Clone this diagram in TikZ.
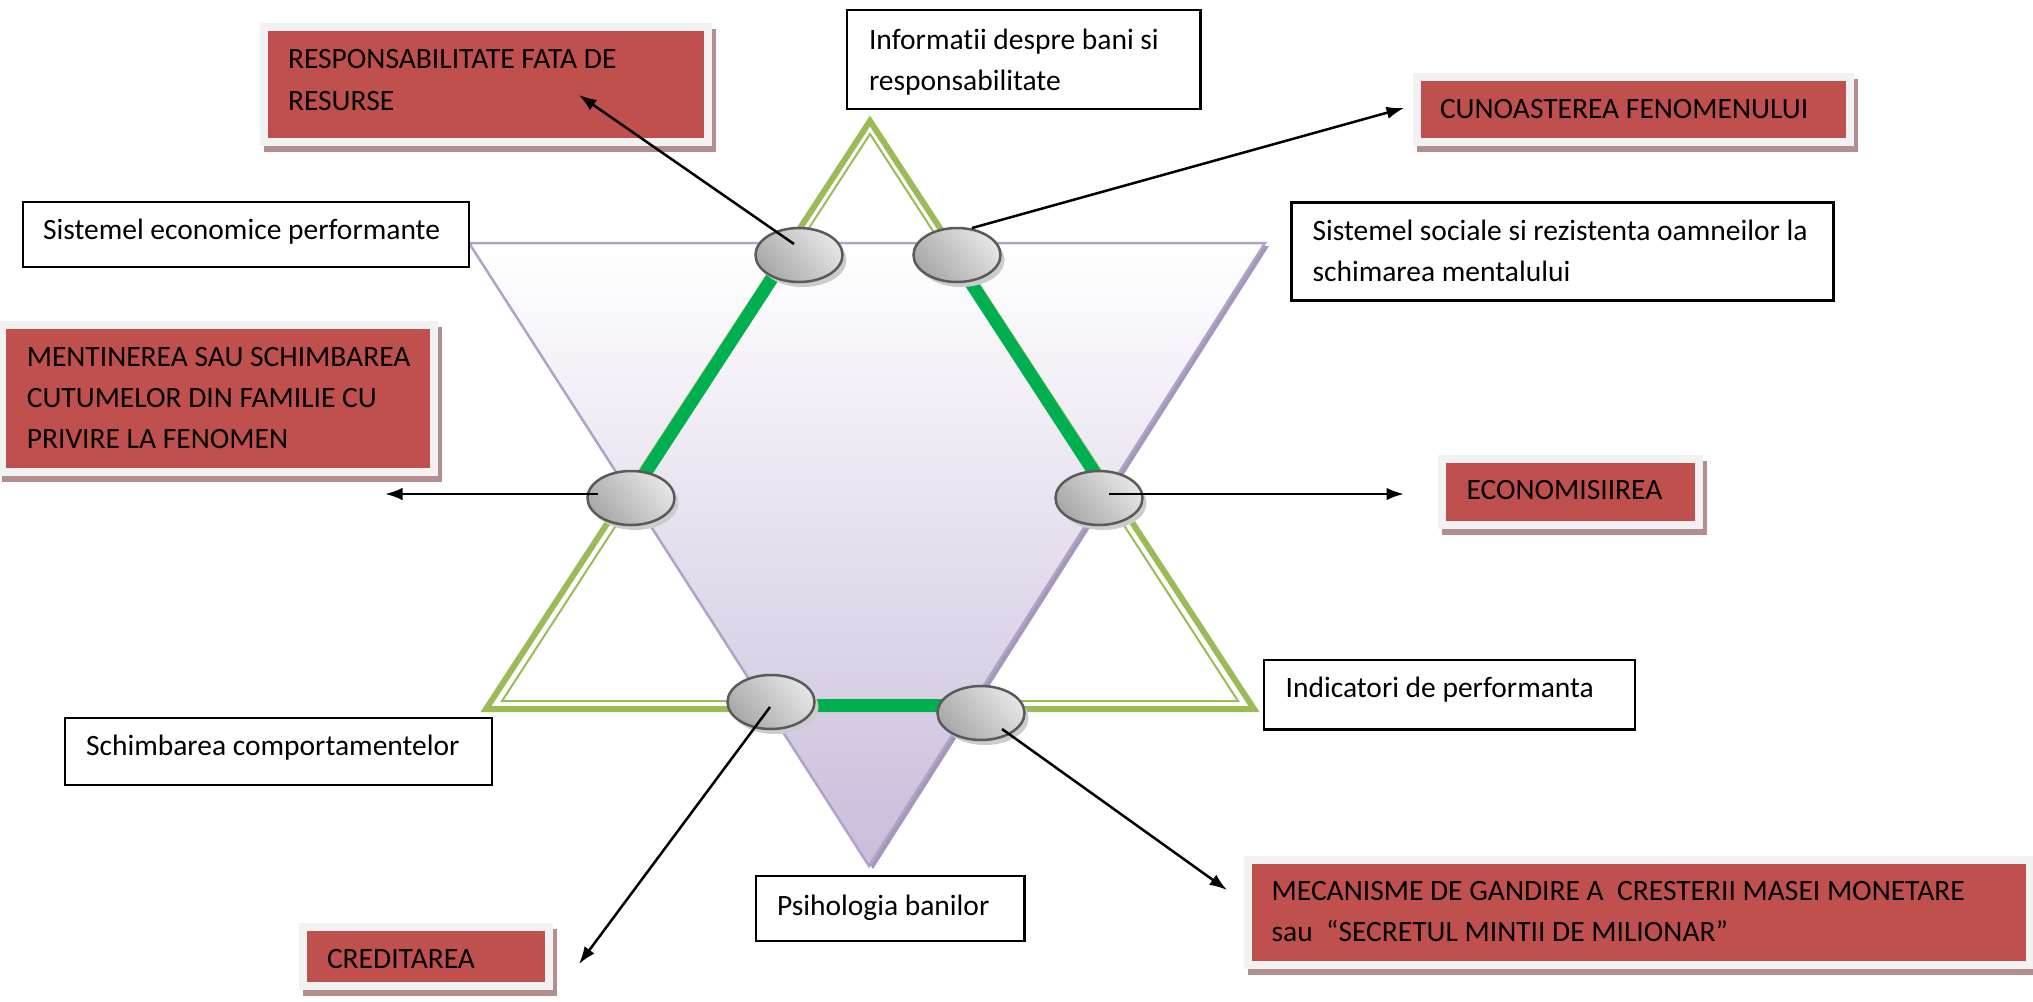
\documentclass[tikz,border=0pt]{standalone}
\usepackage{fontspec}
\setmainfont{Carlito}[Ligatures=NoCommon]
\usetikzlibrary{arrows.meta,calc,shapes.geometric}
\definecolor{redc}{HTML}{C0504D}
\definecolor{framec}{HTML}{F2F2F2}
\definecolor{shadowc}{HTML}{B28E8E}
\definecolor{palegreen}{HTML}{9BBB59}
\definecolor{brightgreen}{HTML}{00B050}
\definecolor{lav}{HTML}{B3A2C7}
\definecolor{lavfill}{HTML}{C9BDDB}
\definecolor{lavshadow}{HTML}{A497BA}
\definecolor{discborder}{HTML}{5A5A5A}
\begin{document}
\begin{tikzpicture}[x=0.4pt,y=-0.4pt,
  font=\fontsize{11.8pt}{14pt}\selectfont,
  wbox/.style={draw=black, line width=1.1pt, fill=white, inner sep=0, outer sep=0, anchor=north west},
  rbox/.style={fill=redc, inner sep=0, outer sep=0, anchor=north west,
    preaction={fill=shadowc, draw=shadowc, line width=6.4pt, transform canvas={shift={(1.6pt,-2.4pt)}}},
    preaction={draw=framec, line width=6.4pt}},
  txt/.style={anchor=base west, inner sep=0, outer sep=0},
  disc/.style={ellipse, minimum width=34.8pt, minimum height=21.6pt, inner sep=0,
    draw=discborder, line width=1pt, top color=gray!20, bottom color=gray!68, shading angle=-50,
    preaction={fill=gray!40, transform canvas={shift={(1.6pt,-2pt)}}}},
  arr/.style={-{Latex[length=7pt,width=5pt]}, line width=1pt, black}
]
\useasboundingbox (0,0) rectangle (2033,1001);
\fill[white] (0,0) rectangle (2033,1001);

% purple downward triangle
\coordinate (pTL) at (469,243);
\coordinate (pTR) at (1265,243);
\coordinate (pB) at (869,866);
\fill[lavshadow] ($(pTL)+(4,3)$) -- ($(pTR)+(4,3)$) -- ($(pB)+(4,3)$) -- cycle;
\path[draw=lav, line width=1pt, top color=white, bottom color=lavfill] (pTL) -- (pTR) -- (pB) -- cycle;

% green upward triangle (double line)
\coordinate (gA) at (870,121);
\coordinate (gR) at (1254,709);
\coordinate (gL) at (486,709);
\coordinate (iA) at (870,134);
\coordinate (iR) at (1238,701);
\coordinate (iL) at (502,701);
\draw[palegreen, line width=2.4pt, line join=miter] (gA) -- (gR) -- (gL) -- cycle;
\draw[palegreen, line width=0.8pt, line join=miter] (iA) -- (iR) -- (iL) -- cycle;

% bright green hexagon edges
\coordinate (h1) at (795,243);
\coordinate (h2) at (631,495);
\coordinate (h3) at (945,243);
\coordinate (h4) at (1109,495);
\coordinate (h5) at (766,705);
\coordinate (h6) at (974,705);
\draw[brightgreen, line width=5.2pt] (h1) -- (h2);
\draw[brightgreen, line width=5.2pt] (h3) -- (h4);
\draw[brightgreen, line width=5.2pt] (h5) -- (h6);

% white boxes
\node[wbox, minimum width=141.4pt, minimum height=39.6pt] (b1) at (847,10) {};
\node[txt] (b1a) at (869,49.3) {Informatii despre bani si};
\node[txt] (b1b) at (869,90.7) {responsabilitate};

\node[wbox, minimum width=178.4pt, minimum height=26pt] (b2) at (23,202) {};
\node[txt] (b2a) at (43,239.3) {Sistemel economice performante};

\node[wbox, minimum width=216.8pt, minimum height=39.2pt] (b3) at (1291.5,202.7) {};
\node[txt] (b3a) at (1312.5,240.7) {Sistemel sociale si rezistenta oamneilor la};
\node[txt] (b3b) at (1312.5,281.7) {schimarea mentalului};

\node[wbox, minimum width=148.4pt, minimum height=27.7pt] (b4) at (1264,660) {};
\node[txt] (b4a) at (1285.6,697.7) {Indicatori de performanta};

\node[wbox, minimum width=170.8pt, minimum height=26.8pt] (b5) at (65,718) {};
\node[txt] (b5a) at (86,755) {Schimbarea comportamentelor};

\node[wbox, minimum width=107.4pt, minimum height=26pt] (b6) at (756,876) {};
\node[txt] (b6a) at (777,915) {Psihologia banilor};

% red boxes
\node[rbox, minimum width=174.4pt, minimum height=42.9pt] (r1) at (268,30.7) {};
\node[txt] (r1a) at (288,68) {RESPONSABILITATE FATA DE};
\node[txt] (r1b) at (288,110) {RESURSE};

\node[rbox, minimum width=170pt, minimum height=23pt] (r2) at (1421,80.7) {};
\node[txt] (r2a) at (1440,118) {CUNOASTEREA FENOMENULUI};

\node[rbox, minimum width=169.7pt, minimum height=55.4pt] (r3) at (5.8,329.3) {};
\node[txt] (r3a) at (26.8,366.7) {MENTINEREA SAU SCHIMBAREA};
\node[txt] (r3b) at (26.8,407.3) {CUTUMELOR DIN FAMILIE CU};
\node[txt] (r3c) at (26.8,448.3) {PRIVIRE LA FENOMEN};

\node[rbox, minimum width=99.3pt, minimum height=23pt] (r4) at (1446.4,463.3) {};
\node[txt] (r4a) at (1466.5,499.3) {ECONOMISIIREA};

\node[rbox, minimum width=95.2pt, minimum height=20.5pt] (r5) at (307,931) {};
\node[txt] (r5a) at (327,968) {CREDITAREA};

\node[rbox, minimum width=309.6pt, minimum height=38.7pt] (r6) at (1252,864) {};
\node[txt] (r6a) at (1271.7,900) {MECANISME DE GANDIRE A\ \ CRESTERII MASEI MONETARE};
\node[txt] (r6b) at (1271.7,941.7) {sau\ \ “SECRETUL MINTII DE MILIONAR”};

% discs
\node[disc] (e1) at (799,255) {};
\node[disc] (e2) at (957,255) {};
\node[disc] (e3) at (631,498) {};
\node[disc] (e4) at (1099,498) {};
\node[disc] (e5) at (771,702) {};
\node[disc] (e6) at (981,713) {};

% arrows
\coordinate (a1) at (579,95);
\coordinate (a2) at (1404,108);
\coordinate (a3) at (385,494);
\coordinate (a4) at (1404,494);
\coordinate (a5) at (579,964);
\coordinate (a6) at (1227,890);
\draw[arr] ($(e1)+(-5,-11)$) -- (a1);
\draw[arr] ($(e2)+(15,-27)$) -- (a2);
\draw[arr] ($(e3)+(-33,-4)$) -- (a3);
\draw[arr] ($(e4)+(10,-4)$) -- (a4);
\draw[arr] ($(e5)+(-1,5)$) -- (a5);
\draw[arr] ($(e6)+(21,16)$) -- (a6);
\end{tikzpicture}
\end{document}
